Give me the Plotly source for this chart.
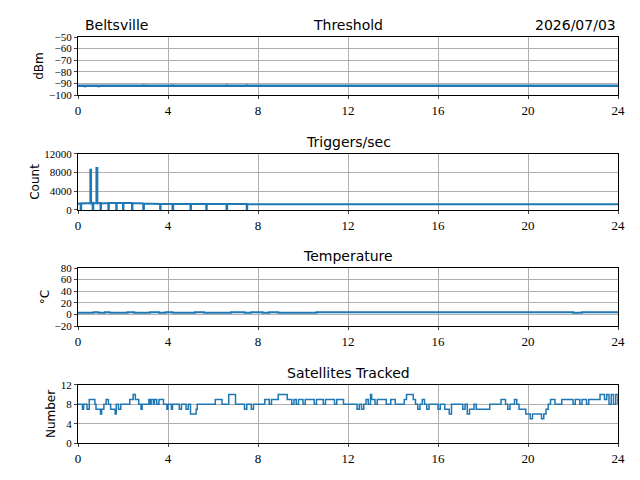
import plotly.graph_objects as go

# Threshold (dBm)
thr_t = [0, 0.3, 0.31, 0.33, 0.9, 0.91, 0.93, 2.9, 2.91, 2.93, 4.2, 4.21, 4.23, 6.6, 6.61, 6.63, 7.5, 7.51, 7.53, 24]
thr_v = [-92, -92, -93, -92, -92, -93, -92, -92, -91, -92, -92, -91, -92, -92, -91, -92, -92, -91, -92, -92]

# Triggers/sec
trig_t = [0, 0.12, 0.12, 0.14, 0.14, 0.55, 0.55, 0.58, 0.58, 0.65, 0.65, 0.68, 0.68, 0.82, 0.82, 0.86, 0.86,
          1.0, 1.0, 1.02, 1.02, 1.35, 1.35, 1.37, 1.37, 1.7, 1.7, 1.72, 1.72, 2.0, 2.0, 2.02, 2.02,
          2.4, 2.4, 2.42, 2.42, 2.9, 2.9, 2.93, 2.93, 3.65, 3.65, 3.67, 3.67, 4.2, 4.2, 4.23, 4.23,
          5.0, 5.0, 5.02, 5.02, 5.7, 5.7, 5.72, 5.72, 6.6, 6.6, 6.63, 6.63, 7.5, 7.5, 7.52, 7.52,
          10, 12, 14, 16, 18, 20, 22, 24]
trig_v = [1300, 1400, 0, 0, 1400, 1500, 8600, 8600, 1400, 1500, 0, 0, 1400, 1500, 9000, 9000, 1400,
          1500, 0, 0, 1400, 1500, 0, 0, 1500, 1500, 0, 0, 1500, 1500, 0, 0, 1500,
          1500, 0, 0, 1500, 1400, 0, 0, 1400, 1300, 0, 0, 1300, 1300, 0, 0, 1300,
          1300, 0, 0, 1300, 1300, 0, 0, 1300, 1300, 0, 0, 1300, 1300, 0, 0, 1200,
          1200, 1200, 1250, 1150, 1150, 1100, 1200, 1200]

# Temperature (°C)
temp_t = [0, 0.7, 0.9, 1.2, 1.4, 2.2, 2.5, 3.2, 3.6, 3.9, 4.2, 5.2, 5.6, 6.8, 7.4, 7.7, 8.2, 8.5, 8.9,
          10.6, 22.0, 22.4, 24]
temp_v = [3, 4, 3, 4, 3, 4, 3, 4, 3, 4, 3, 4, 3, 4, 3, 4, 3, 4, 3, 4, 3, 4, 4]

# Satellites tracked
sat_t = [0, 0.1, 0.2, 0.25, 0.4, 0.5, 0.75, 0.8, 1.0, 1.05, 1.15, 1.25, 1.35, 1.45, 1.65, 1.7, 1.8, 1.9,
         2.3, 2.45, 2.55, 2.7, 2.8, 2.85, 3.15, 3.2, 3.25, 3.35, 3.4, 3.5, 3.6, 3.8, 3.95, 4.0, 4.15, 4.2,
         4.5, 4.6, 4.8, 4.9, 5.0, 5.25, 5.3, 6.1, 6.4, 6.7, 7.0, 7.4, 7.5, 7.7, 7.8, 8.3, 8.5, 8.6, 8.9,
         9.3, 9.5, 9.6, 9.7, 9.8, 10.0, 10.1, 10.5, 10.6, 10.9, 11.0, 11.4, 11.5, 11.8, 12.3, 12.4, 12.5,
         12.6, 12.7, 12.8, 12.9, 13.0, 13.05, 13.2, 13.3, 13.7, 13.9, 14.1, 14.5, 14.6, 14.9, 15.0, 15.1,
         15.2, 15.3, 15.4, 15.5, 15.6, 16.0, 16.1, 16.3, 16.5, 16.6, 17.1, 17.2, 17.3, 17.4, 17.6, 17.7,
         18.3, 18.8, 19.0, 19.1, 19.2, 19.4, 19.5, 19.6, 19.9, 20.1, 20.2, 20.6, 20.7, 20.8, 20.9, 21.0,
         21.2, 21.5, 22.0, 22.1, 22.3, 22.4, 22.6, 22.7, 23.2, 23.4, 23.5, 23.6, 23.7, 23.8, 23.9, 24]
sat_v = [8, 8, 7, 8, 7, 9, 8, 7, 6, 7, 8, 9, 8, 7, 6, 8, 7, 8,
         9, 10, 9, 8, 7, 8, 9, 8, 9, 8, 9, 8, 9, 8, 7, 8, 7, 8,
         7, 8, 7, 8, 6, 7, 8, 9, 8, 10, 8, 7, 8, 7, 8, 9, 8, 9, 10,
         9, 8, 9, 8, 9, 8, 9, 8, 9, 8, 9, 8, 9, 8, 8, 7, 8,
         7, 8, 9, 8, 10, 9, 8, 9, 8, 9, 8, 9, 10, 9, 8, 7,
         8, 9, 8, 7, 8, 7, 8, 7, 6, 8, 7, 8, 6, 7, 8, 7,
         8, 9, 8, 7, 8, 9, 8, 7, 6, 5, 6, 5, 6, 7, 8, 9,
         8, 9, 8, 9, 8, 9, 8, 9, 10, 9, 10, 8, 10, 8, 10, 8]

titles = ["Threshold", "Triggers/sec", "Temperature", "Satellites Tracked"]
ylabels = ["dBm", "Count", "°C", "Number"]
yranges = [(-100, -50), (0, 12000), (-20, 80), (0, 12)]
ydtick = [10, 4000, 20, 4]
domains = [(0.857, 1.0), (0.574, 0.712), (0.288, 0.431), (0.0, 0.143)]
widths = [2.5, 2, 2, 1.5]

BLUE = "#1f77b4"
SERIF = "Liberation Serif"
SANS = "DejaVu Sans"

fig = go.Figure()
series = [(thr_t, thr_v, "linear"), (trig_t, trig_v, "linear"), (temp_t, temp_v, "hv"), (sat_t, sat_v, "hv")]
for i, (t, v, shape) in enumerate(series):
    n = "" if i == 0 else str(i + 1)
    fig.add_trace(go.Scatter(x=t, y=v, mode="lines", line=dict(color=BLUE, width=widths[i], shape=shape),
                             xaxis="x" + n, yaxis="y" + n, showlegend=False))
    ax = dict(range=[0, 24], tickvals=[0, 4, 8, 12, 16, 20, 24], showgrid=True, gridcolor="#b0b0b0",
              zeroline=False, showline=True, linecolor="black", mirror=True, ticks="outside",
              ticklen=3, automargin=False, tickfont=dict(family=SERIF, size=13, color="black"),
              anchor="y" + n)
    ay = dict(range=list(yranges[i]), dtick=ydtick[i], tickformat="d", domain=list(domains[i]),
              showgrid=True, gridcolor="#b0b0b0", zeroline=False, showline=True, linecolor="black",
              mirror=True, ticks="outside", ticklen=3, automargin=False,
              tickfont=dict(family=SERIF, size=11, color="black"),
              title=dict(text=ylabels[i], font=dict(family=SANS, size=12, color="black"), standoff=2),
              anchor="x" + n)
    fig.update_layout(**{"xaxis" + n: ax, "yaxis" + n: ay})
    fig.add_annotation(text=titles[i], x=0.5, y=domains[i][1], xref="paper", yref="paper",
                       xanchor="center", yanchor="bottom", yshift=2, showarrow=False,
                       font=dict(family=SANS, size=14, color="black"))

fig.add_annotation(text="Beltsville", x=0.01, y=1, xref="paper", yref="paper", xanchor="left",
                   yanchor="bottom", yshift=2, showarrow=False, font=dict(family=SANS, size=14, color="black"))
fig.add_annotation(text="2026/07/03", x=1, y=1, xref="paper", yref="paper", xanchor="right",
                   yanchor="bottom", yshift=2, showarrow=False, font=dict(family=SANS, size=14, color="black"))

fig.update_layout(width=640, height=480, margin=dict(l=70, r=30, t=29, b=45),
                  plot_bgcolor="white", paper_bgcolor="white")
fig.write_html("out.html")
